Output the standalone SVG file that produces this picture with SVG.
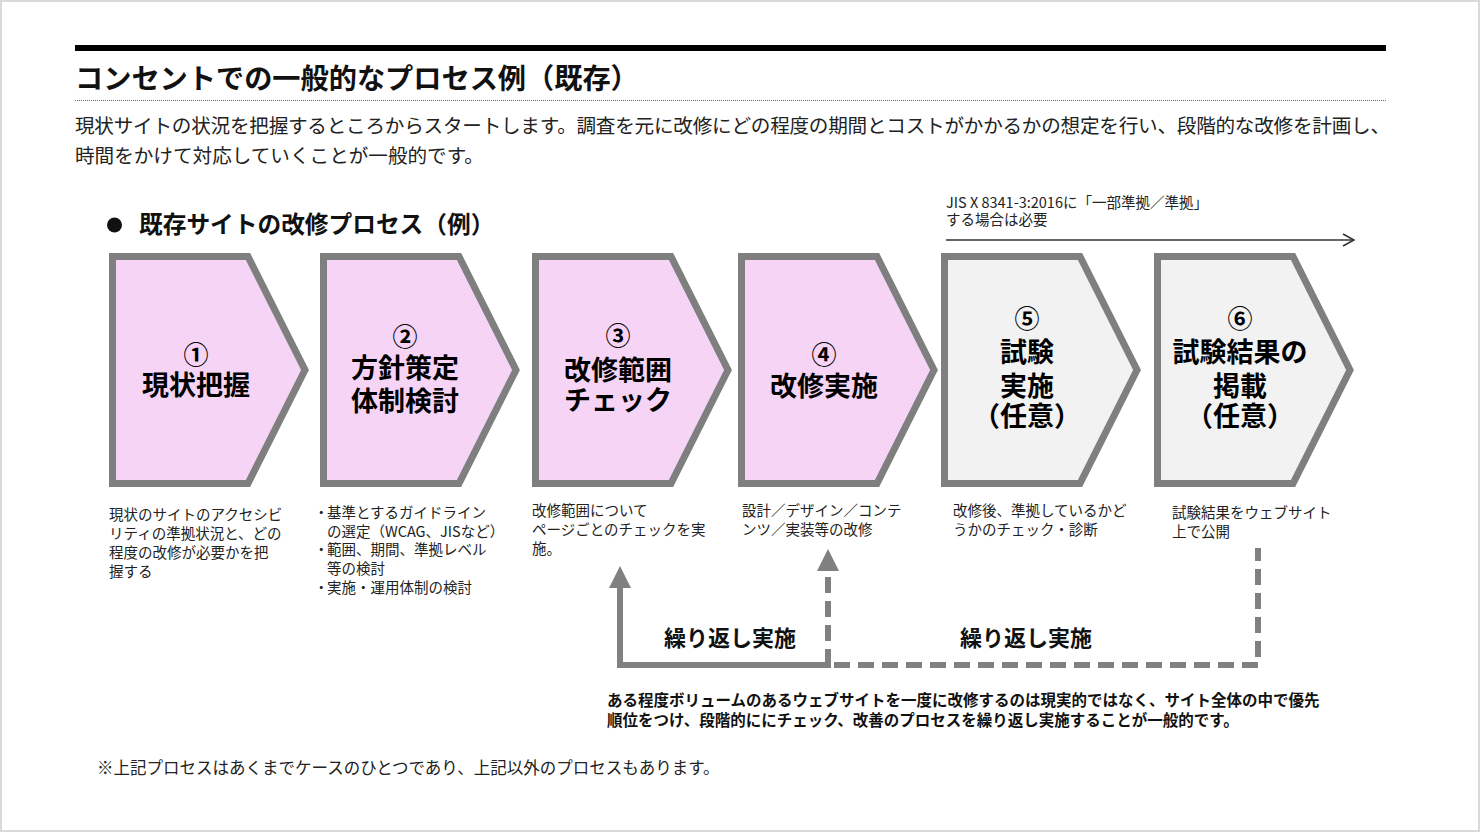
<svg xmlns="http://www.w3.org/2000/svg" width="1480" height="832" viewBox="0 0 1480 832">
<style>
  text { font-family: "Noto Sans CJK JP", "Noto Sans", sans-serif; fill: #111; }
  .title { font-size: 28.2px; font-weight: 700; }
  .lead { font-size: 19.6px; fill: #222; }
  .sec { font-size: 23.7px; font-weight: 700; }
  .box { stroke: #7f7f7f; stroke-width: 7; stroke-linejoin: miter; }
  .pink { fill: #f5d4f5; }
  .grey { fill: #f2f2f2; }
  .lbl { font-size: 27px; font-weight: 700; text-anchor: middle; fill: #000; }
  .num { font-size: 25px; }
  .desc { font-size: 14.5px; fill: #222; }
  .note { font-size: 14.5px; fill: #222; }
  .rep { font-size: 22px; font-weight: 700; fill: #111; }
  .bold15 { font-size: 15.5px; font-weight: 700; fill: #111; }
  .foot { font-size: 16.5px; fill: #222; }
  .flow { fill: none; stroke: #808080; stroke-width: 6; }
  .dash { stroke-dasharray: 16 8; }
</style>
<defs>
  <marker id="ah" markerUnits="userSpaceOnUse" markerWidth="22" markerHeight="22" viewBox="0 0 22 22" refX="0" refY="11" orient="auto">
    <path d="M0,0 L22,11 L0,22 z" fill="#808080"/>
  </marker>
</defs>
<rect x="1" y="1" width="1478" height="830" fill="#fff" stroke="#d9d9d9" stroke-width="2"/>

<g id="header">
  <rect x="75" y="45" width="1311" height="6" fill="#000"/>
  <text class="title" x="75" y="89">コンセントでの一般的なプロセス例（既存）</text>
  <line x1="75" y1="100.5" x2="1386" y2="100.5" stroke="#666" stroke-width="1" stroke-dasharray="1 1"/>
  <text class="lead" x="75" y="133" textLength="1315" lengthAdjust="spacing">現状サイトの状況を把握するところからスタートします。調査を元に改修にどの程度の期間とコストがかかるかの想定を行い、段階的な改修を計画し、</text>
  <text class="lead" x="75" y="163">時間をかけて対応していくことが一般的です。</text>
</g>

<g id="section-heading">
  <circle cx="114.5" cy="225" r="7.5" fill="#111"/>
  <text class="sec" x="139" y="233">既存サイトの改修プロセス（例）</text>
</g>

<g id="step1" transform="translate(109,0)">
  <polygon class="box pink" points="3.5,256.5 139,256.5 196,370 139,483.5 3.5,483.5"/>
  <text class="lbl"><tspan class="num" x="87" y="364">①</tspan><tspan x="87" y="395">現状把握</tspan></text>
</g>
<g id="step2" transform="translate(320,0)">
  <polygon class="box pink" points="3.5,256.5 139,256.5 196,370 139,483.5 3.5,483.5"/>
  <text class="lbl"><tspan class="num" x="85" y="346">②</tspan><tspan x="85" y="378">方針策定</tspan><tspan x="85" y="411">体制検討</tspan></text>
</g>
<g id="step3" transform="translate(532,0)">
  <polygon class="box pink" points="3.5,256.5 139,256.5 196,370 139,483.5 3.5,483.5"/>
  <text class="lbl"><tspan class="num" x="86" y="345">③</tspan><tspan x="86" y="380">改修範囲</tspan><tspan x="86" y="410">チェック</tspan></text>
</g>
<g id="step4" transform="translate(738,0)">
  <polygon class="box pink" points="3.5,256.5 139,256.5 196,370 139,483.5 3.5,483.5"/>
  <text class="lbl"><tspan class="num" x="86" y="364">④</tspan><tspan x="86" y="396">改修実施</tspan></text>
</g>
<g id="step5" transform="translate(941,0)">
  <polygon class="box grey" points="3.5,256.5 139,256.5 196,370 139,483.5 3.5,483.5"/>
  <text class="lbl"><tspan class="num" x="86" y="328">⑤</tspan><tspan x="86" y="362">試験</tspan><tspan x="86" y="396">実施</tspan><tspan x="86" y="426">（任意）</tspan></text>
</g>
<g id="step6" transform="translate(1154,0)">
  <polygon class="box grey" points="3.5,256.5 139,256.5 196,370 139,483.5 3.5,483.5"/>
  <text class="lbl"><tspan class="num" x="86" y="328">⑥</tspan><tspan x="86" y="362">試験結果の</tspan><tspan x="86" y="396">掲載</tspan><tspan x="86" y="426">（任意）</tspan></text>
</g>

<g id="descriptions">
  <text class="desc"><tspan x="109" y="520">現状のサイトのアクセシビ</tspan><tspan x="109" y="539">リティの準拠状況と、どの</tspan><tspan x="109" y="558">程度の改修が必要かを把</tspan><tspan x="109" y="577">握する</tspan></text>

  <text class="desc"><tspan x="314" y="518">・</tspan><tspan x="327" y="518">基準とするガイドライン</tspan><tspan x="327" y="537">の選定（WCAG、JISなど）</tspan><tspan x="314" y="555">・</tspan><tspan x="327" y="555">範囲、期間、準拠レベル</tspan><tspan x="327" y="574">等の検討</tspan><tspan x="314" y="593">・</tspan><tspan x="327" y="593">実施・運用体制の検討</tspan></text>

  <text class="desc"><tspan x="532" y="516">改修範囲について</tspan><tspan x="532" y="535">ページごとのチェックを実</tspan><tspan x="532" y="554">施。</tspan></text>

  <text class="desc"><tspan x="742" y="516">設計／デザイン／コンテ</tspan><tspan x="742" y="535">ンツ／実装等の改修</tspan></text>

  <text class="desc"><tspan x="953" y="516">改修後、準拠しているかど</tspan><tspan x="953" y="535">うかのチェック・診断</tspan></text>

  <text class="desc"><tspan x="1172" y="518">試験結果をウェブサイト</tspan><tspan x="1172" y="537">上で公開</tspan></text>
</g>

<g id="jis-note">
  <text class="note"><tspan x="946" y="208">JIS X 8341-3:2016に「一部準拠／準拠」</tspan><tspan x="946" y="225">する場合は必要</tspan></text>
</g>

<g id="connectors">
  <line x1="946" y1="240" x2="1354" y2="240" stroke="#333" stroke-width="1.5"/>
  <polyline points="1343,234 1354,240 1343,246" fill="none" stroke="#333" stroke-width="1.5"/>
  <path class="flow" d="M831,665 H620 V588" marker-end="url(#ah)"/>
  <path class="flow dash" d="M828,665 V571" marker-end="url(#ah)"/>
  <path class="flow dash" d="M834,665 H1258 V548"/>
</g>

<g id="loop-labels">
  <text class="rep" x="664" y="646">繰り返し実施</text>
  <text class="rep" x="960" y="646">繰り返し実施</text>
</g>

<g id="summary">
  <text class="bold15"><tspan x="607" y="706">ある程度ボリュームのあるウェブサイトを一度に改修するのは現実的ではなく、サイト全体の中で優先</tspan><tspan x="607" y="726">順位をつけ、段階的ににチェック、改善のプロセスを繰り返し実施することが一般的です。</tspan></text>
</g>

<text class="foot" x="97" y="774">※上記プロセスはあくまでケースのひとつであり、上記以外のプロセスもあります。</text>
</svg>
